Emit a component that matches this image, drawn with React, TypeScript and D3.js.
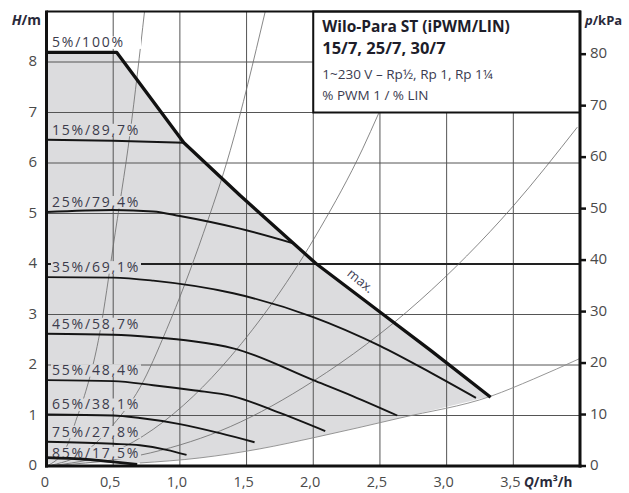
import React from "react";
import * as d3 from "d3";

// ---------- data ----------
const Q_TICKS = [0, 0.5, 1.0, 1.5, 2.0, 2.5, 3.0, 3.5];
const Q_TICK_LABELS = ["0", "0,5", "1,0", "1,5", "2,0", "2,5", "3,0", "3,5"];
const H_TICKS = [0, 1, 2, 3, 4, 5, 6, 7, 8];
const P_TICKS = [0, 10, 20, 30, 40, 50, 60, 70, 80];

// max curve (5%/100%)
const MAX_Q = [0, 0.527, 1.03, 1.45, 2.02, 2.5, 2.88, 3.33];
const MAX_H = [8.19, 8.19, 6.4, 5.36, 4.01, 3.05, 2.29, 1.36];

// speed curves
const SPEED_LABELS = ["15%/89,7%", "25%/79,4%", "35%/69,1%", "45%/58,7%", "55%/48,4%", "65%/38,1%", "75%/27,8%", "85%/17,5%"];
const S15_Q = [0, 0.5, 1.03];
const S15_H = [6.46, 6.44, 6.4];
const S25_Q = [0, 0.5, 0.8, 1.0, 1.45, 1.85];
const S25_H = [5.03, 5.07, 5.04, 4.95, 4.7, 4.41];
const S35_Q = [0, 0.5, 0.8, 1.4, 2.0, 2.5, 2.88, 3.22];
const S35_H = [3.74, 3.73, 3.67, 3.42, 2.95, 2.38, 1.85, 1.35];
const S45_Q = [0, 0.5, 0.8, 1.1, 1.4, 2.0, 2.3, 2.63];
const S45_H = [2.62, 2.6, 2.55, 2.47, 2.33, 1.7, 1.38, 1.0];
const S55_Q = [0, 0.5, 0.8, 1.1, 1.4, 1.75, 2.09];
const S55_H = [1.7, 1.68, 1.6, 1.5, 1.38, 1.05, 0.69];
const S65_Q = [0, 0.5, 0.7, 1.0, 1.3, 1.56];
const S65_H = [1.02, 1.0, 0.95, 0.83, 0.65, 0.47];
const S75_Q = [0, 0.5, 0.7, 0.9, 1.05];
const S75_H = [0.48, 0.44, 0.41, 0.32, 0.22];
const S85_Q = [0, 0.3, 0.5, 0.68];
const S85_H = [0.165, 0.13, 0.08, 0.03];

// system (pipe) curves
const SYS1_Q = [0, 0.15, 0.227, 0.276, 0.414, 0.464, 0.5, 0.627, 0.735];
const SYS1_H = [0, 0.38, 0.95, 1.32, 2.85, 3.7, 4.35, 6.6, 9.0];
const SYS2_Q = [0, 0.3, 0.5, 0.7, 0.9, 1.175, 1.378, 1.64];
const SYS2_H = [0, 0.3, 0.82, 1.55, 2.7, 4.6, 6.25, 9.0];
const SYS3_Q = [0, 0.5, 1.1, 1.378, 2.05, 2.37, 2.49, 2.83];
const SYS3_H = [0, 0.28, 1.38, 2.16, 4.7, 6.28, 6.98, 9.0];
const SYS4_Q = [0, 0.78, 1.378, 2.0, 2.8, 3.5, 3.98];
const SYS4_H = [0, 0.26, 0.78, 1.68, 3.28, 5.15, 6.71];
// minimum / lower boundary
const MIN_Q = [0, 0.7, 1.15, 1.6, 2.02, 2.65, 3.33, 3.65, 4.0];
const MIN_H = [0.05, 0.06, 0.16, 0.34, 0.57, 0.95, 1.38, 1.72, 2.13];

const TITLE_LINES = ["Wilo-Para ST (iPWM/LIN)", "15/7, 25/7, 30/7", "1~230 V – Rp½, Rp 1, Rp 1¼", "% PWM 1 / % LIN"];

// ---------- helpers ----------
type P = [number, number];
const zip = (q: number[], h: number[]): P[] => q.map((v, i) => [v, h[i]]);

const W = 629;
const H = 493;
const x = d3.scaleLinear().domain([0, 4]).range([46.5, 580]);
const y = d3.scaleLinear().domain([0, 9]).range([466, 11.5]);
const yP = d3.scaleLinear().domain([0, 9 * 9.81]).range([466, 11.5]);

const smooth = d3.line<P>().x((d) => x(d[0])).y((d) => y(d[1])).curve(d3.curveMonotoneX);
const straight = d3.line<P>().x((d) => x(d[0])).y((d) => y(d[1]));

const FONT = "'Open Sans', 'Noto Sans', sans-serif";
const GREY = "#dcdcde";

export default function App() {
  const maxPts = zip(MAX_Q, MAX_H);
  const minPts = zip(MIN_Q, MIN_H);
  const fillPts: P[] = [
    ...maxPts,
    ...minPts.filter((d) => d[0] <= 3.33).reverse(),
  ];
  const speed = [
    zip(S15_Q, S15_H),
    zip(S25_Q, S25_H),
    zip(S35_Q, S35_H),
    zip(S45_Q, S45_H),
    zip(S55_Q, S55_H),
    zip(S65_Q, S65_H),
    zip(S75_Q, S75_H),
    zip(S85_Q, S85_H),
  ];
  const systems = [zip(SYS1_Q, SYS1_H), zip(SYS2_Q, SYS2_H), zip(SYS3_Q, SYS3_H), zip(SYS4_Q, SYS4_H)];
  const minLine = minPts.filter((d) => d[0] >= 0.7);

  const labelFont = { fontFamily: FONT, fontSize: 14, letterSpacing: 1.8, fill: "#3b3b4c" } as const;
  const labelW = 90;

  const allLabels = [{ text: "5%/100%", h: MAX_H[0], bg: "#fff", off: 5 }].concat(
    SPEED_LABELS.map((t, i) => ({ text: t, h: speed[i][0][1], bg: GREY, off: i === SPEED_LABELS.length - 1 ? 0 : 5 }))
  );

  const x0 = x(0);
  const x1 = x(4);

  return (
    <svg width={W} height={H} style={{ position: "absolute", left: 0, top: 0, display: "block", background: "#fff" }}>
      <rect x={0} y={0} width={W} height={H} fill="#fff" />
      {/* grey operating area */}
      <path d={straight(fillPts) + "Z"} fill={GREY} />

      {/* grid */}
      {Q_TICKS.filter((q) => q > 0).map((q) => (
        <line key={"vq" + q} x1={x(q)} x2={x(q)} y1={y(9)} y2={y(0)} stroke="#555" strokeWidth={1} />
      ))}
      {H_TICKS.filter((h) => h > 0).map((h) => (
        <line key={"hh" + h} x1={x0} x2={x1} y1={y(h)} y2={y(h)} stroke={h === 4 ? "#222" : "#555"} strokeWidth={h === 4 ? 1.8 : 1} />
      ))}

      {/* system curves */}
      {systems.map((s, i) => (
        <path key={"sys" + i} d={smooth(s) || ""} fill="none" stroke="#6a6a6a" strokeWidth={0.8} />
      ))}
      <path d={smooth(minLine) || ""} fill="none" stroke="#8a8a8a" strokeWidth={0.9} />

      {/* labels with masking background */}
      {allLabels.map((l, i) => {
        const by = y(l.h) - l.off;
        return (
          <g key={"lab" + i}>
            <rect x={51} y={by - 11} width={labelW} height={12.5} fill={l.bg} />
            <text x={52} y={by} style={labelFont}>
              {l.text}
            </text>
          </g>
        );
      })}

      {/* speed curves */}
      {speed.map((s, i) => (
        <path
          key={"sp" + i}
          d={smooth(s) || ""}
          fill="none"
          stroke="#151515"
          strokeWidth={i === speed.length - 1 ? 2.8 : 1.9}
          strokeLinecap="butt"
        />
      ))}
      {/* max curve */}
      <path d={straight(maxPts) || ""} fill="none" stroke="#111" strokeWidth={3.3} strokeLinejoin="round" />
      <text
        x={x(2.35)}
        y={y(3.65)}
        transform={`rotate(39 ${x(2.35)} ${y(3.65)})`}
        textAnchor="middle"
        dominantBaseline="middle"
        style={{ fontFamily: FONT, fontSize: 13, fill: "#3b3b55" }}
      >
        max.
      </text>

      {/* legend box */}
      <rect x={x(2)} y={y(9)} width={x(4) - x(2)} height={y(7) - y(9)} fill="#fff" stroke="#111" strokeWidth={2} />
      <text x={x(2) + 9} y={31.5} style={{ fontFamily: FONT, fontSize: 15.5, fontWeight: 700, fill: "#1d1d2a" }}>
        {TITLE_LINES[0]}
      </text>
      <text x={x(2) + 9} y={54} style={{ fontFamily: FONT, fontSize: 16.5, fontWeight: 700, fill: "#1d1d2a" }}>
        {TITLE_LINES[1]}
      </text>
      <text x={x(2) + 9} y={79} style={{ fontFamily: FONT, fontSize: 13.5, fill: "#3b3b50" }}>
        {TITLE_LINES[2]}
      </text>
      <text x={x(2) + 9} y={100} style={{ fontFamily: FONT, fontSize: 13.5, fill: "#3b3b50" }}>
        {TITLE_LINES[3]}
      </text>

      {/* frame */}
      <line x1={x0} x2={x1} y1={y(9)} y2={y(9)} stroke="#111" strokeWidth={2} />
      <line x1={x0} x2={x0} y1={y(9) - 1} y2={y(0) + 1.5} stroke="#111" strokeWidth={3} />
      <line x1={x1} x2={x1} y1={y(9) - 1} y2={y(0) + 1.5} stroke="#111" strokeWidth={3} />
      <line x1={x0 - 1.5} x2={x1 + 1.5} y1={y(0)} y2={y(0)} stroke="#111" strokeWidth={3} />

      {/* left ticks */}
      {H_TICKS.map((h) => (
        <text key={"lh" + h} x={37} y={y(h)} textAnchor="end" dominantBaseline="middle" style={{ fontFamily: FONT, fontSize: 15, fill: "#4a4a4a" }}>
          {h}
        </text>
      ))}
      {/* right ticks */}
      {P_TICKS.map((p) => (
        <g key={"rp" + p}>
          <line x1={x1} x2={x1 + 6} y1={yP(p)} y2={yP(p)} stroke="#111" strokeWidth={2.5} />
          <text x={590} y={yP(p)} dominantBaseline="middle" style={{ fontFamily: FONT, fontSize: 15, fill: "#4a4a4a" }}>
            {p}
          </text>
        </g>
      ))}
      {/* bottom ticks */}
      {Q_TICKS.map((q, i) => (
        <text key={"bq" + q} x={x(q) - (i === 0 ? 1.5 : 3)} y={487} textAnchor="middle" style={{ fontFamily: FONT, fontSize: 14.5, fill: "#4a4a4a" }}>
          {Q_TICK_LABELS[i]}
        </text>
      ))}

      {/* axis titles */}
      <text x={41} y={25} textAnchor="end" style={{ fontFamily: FONT, fontSize: 14, fontWeight: 700, fill: "#2a2a3a" }}>
        <tspan fontStyle="italic">H</tspan>/m
      </text>
      <text x={585} y={25} style={{ fontFamily: FONT, fontSize: 13, fontWeight: 700, fill: "#2a2a3a" }}>
        <tspan fontStyle="italic">p</tspan>/kPa
      </text>
      <text x={524} y={487} style={{ fontFamily: FONT, fontSize: 13.5, fontWeight: 700, fill: "#2a2a3a" }}>
        <tspan fontStyle="italic">Q</tspan>/m³/h
      </text>
    </svg>
  );
}
